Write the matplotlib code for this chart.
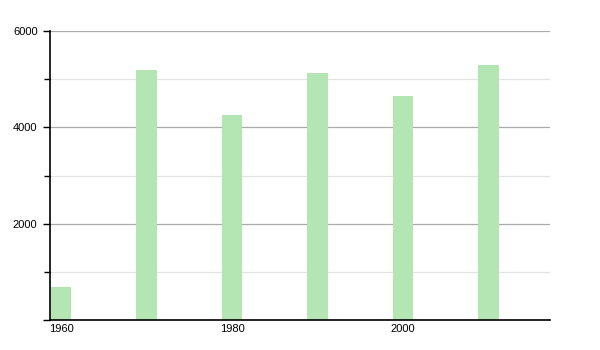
import numpy as np
import matplotlib
matplotlib.use("Agg")
from matplotlib import pyplot as plt
from matplotlib.ticker import MultipleLocator

# population by decade
years = [1960, 1970, 1980, 1990, 2000, 2010]
values = [690, 5190, 4250, 5130, 4650, 5290]
tick_years = [1960, 1980, 2000]

plt.rcParams['font.family'] = ['Liberation Sans', 'DejaVu Sans']

fig = plt.figure(figsize=(6, 3.5), dpi=100)
ax = fig.add_axes([50 / 600, 30 / 350, 500 / 600, 289 / 350])

bar_w = 2.4
ax.bar(years, values, width=bar_w, align="edge", color="#b3e6b3", zorder=2)

ax.set_xlim(1959.9, 2018.4)
ax.set_ylim(0, 6000)

ax.yaxis.set_major_locator(MultipleLocator(2000))
ax.yaxis.set_minor_locator(MultipleLocator(1000))
ax.grid(axis="y", which="major", color="#aaaaaa", linewidth=0.9, zorder=0)
ax.grid(axis="y", which="minor", color="#e3e3e3", linewidth=0.9, zorder=0)

ax.set_xticks([y + bar_w / 2 for y in tick_years])
ax.set_xticklabels([str(y) for y in tick_years])
ax.tick_params(axis="x", length=0, pad=3, labelsize=8)
ax.tick_params(axis="y", which="major", length=5, width=1, pad=4, labelsize=8, direction="out")
ax.tick_params(axis="y", which="minor", length=4, width=1, direction="out")

yt = ax.get_yticks()
ax.set_yticklabels(["" if v == 0 else str(int(v)) for v in yt])

for s in ["top", "right"]:
    ax.spines[s].set_visible(False)
for s in ["left", "bottom"]:
    ax.spines[s].set_color("black")
    ax.spines[s].set_linewidth(1.2)

fig.savefig("out.png", dpi=100)
